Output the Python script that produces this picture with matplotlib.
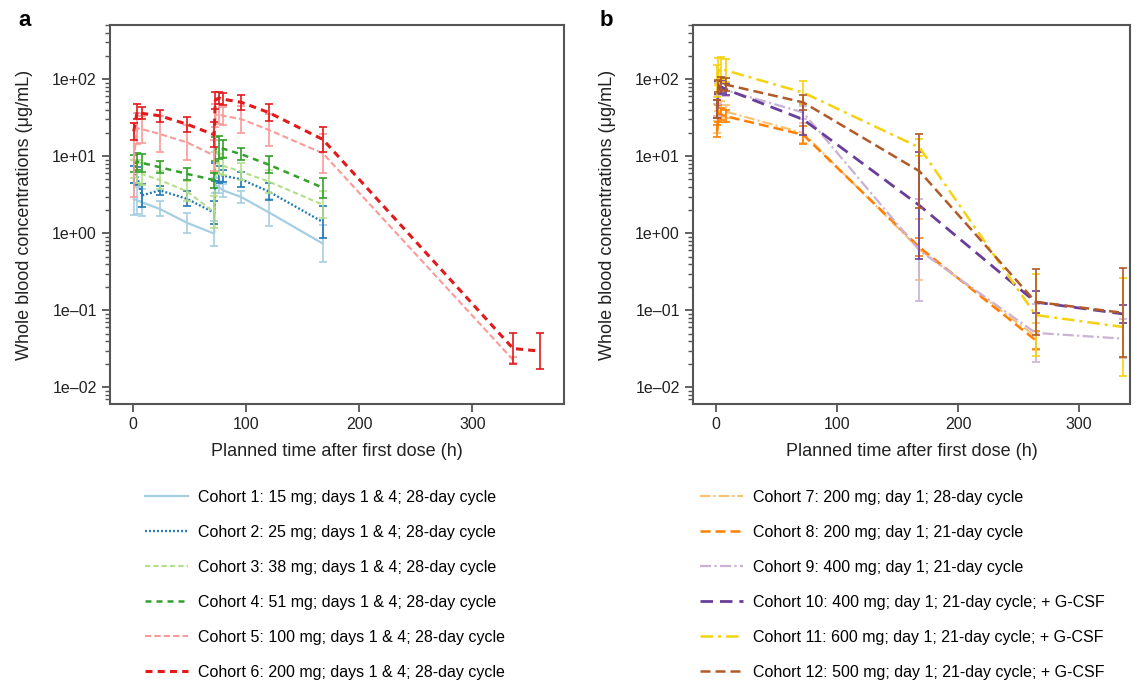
import matplotlib
matplotlib.use('Agg')
import matplotlib.pyplot as plt
from matplotlib.ticker import LogLocator, NullFormatter, FixedLocator
import numpy as np

plt.rcParams['font.family'] = ['Liberation Sans', 'DejaVu Sans']

# ---- data (panel a: days 1 & 4 schedule) ----
t_a = [1, 4, 8, 24, 48, 72, 73, 76, 80, 96, 120, 168]
t_a5 = t_a + [336]
t_a6 = t_a + [336, 360]

c1 = [2.8, 2.67, 2.53, 2.07, 1.37, 0.99, 4.2, 4.0, 3.6, 2.95, 1.88, 0.735]
c2 = [5.8, 5.5, 3.1, 3.6, 2.8, 1.85, 6.2, 5.8, 5.6, 5.0, 3.5, 1.40]
c3 = [6.8, 6.3, 5.9, 4.9, 3.5, 1.88, 8.3, 8.0, 7.5, 6.3, 4.7, 2.35]
c4 = [8.0, 8.5, 8.2, 7.2, 5.9, 4.9, 12.4, 13.0, 12.5, 10.6, 7.8, 3.9]
c5 = [9.0, 23, 22.5, 19.4, 15.1, 10.2, 34, 35, 33.5, 30.3, 22.0, 10.9, 0.0228]
c6 = [21, 38, 36, 33.5, 26, 19, 53, 57, 55, 50, 37, 16.5, 0.032, 0.0296]

# multiplicative spread of the error bars
e1 = [1.6, 1.5, 1.5, 1.25, 1.35, 1.45, 1.25, 1.2, 1.2, 1.2, 1.5, 1.75]
e2 = [1.3, 1.3, 1.4, 1.15, 1.25, 1.4, 1.3, 1.3, 1.2, 1.25, 1.3, 1.6]
e3 = [1.3, 1.4, 1.4, 1.3, 1.35, 1.6, 1.35, 1.35, 1.3, 1.3, 1.4, 1.5]
e4 = [1.3, 1.3, 1.3, 1.2, 1.2, 1.25, 1.45, 1.4, 1.3, 1.2, 1.3, 1.35]
e5 = [3.0, 1.6, 1.5, 1.7, 1.7, 1.6, 1.4, 1.35, 1.3, 1.5, 1.6, 1.8, 1.1]
e6 = [1.3, 1.25, 1.2, 1.2, 1.25, 1.45, 1.3, 1.2, 1.2, 1.25, 1.3, 1.45, 1.6, 1.7]

# ---- panel b: day 1 schedule ----
t_b = [1, 2, 4, 8, 72, 168, 264, 336]
t_b78 = t_b[:7]

c7 = [24, 50, 42, 38, 20, 0.62, 0.046]
c8 = [21, 36, 35, 33, 19, 0.66, 0.041]
c9 = [40, 75, 78, 72, 37, 0.6, 0.051, 0.043]
c10 = [41, 78, 80, 74, 30, 2.3, 0.128, 0.090]
c11 = [95, 125, 140, 130, 67, 13, 0.087, 0.061]
c12 = [41, 82, 88, 85, 50, 6.4, 0.129, 0.093]

e7 = [1.2, 1.3, 1.25, 1.2, 1.35, 2.5, 1.5]
e8 = [1.2, 1.3, 1.2, 1.2, 1.3, 1.3, 1.3]
e9 = [1.2, 1.2, 1.2, 1.2, 1.2, 4.6, 2.4, 1.8]
e10 = [1.3, 1.2, 1.2, 1.2, 1.6, 5.0, 1.4, 1.3]
e11 = [1.6, 1.5, 1.4, 1.4, 1.4, 1.3, 3.4, 4.3]
e12 = [1.3, 1.2, 1.2, 1.2, 1.25, 3.0, 2.7, 3.8]

labels_a = ['Cohort 1: 15 mg; days 1 & 4; 28-day cycle',
            'Cohort 2: 25 mg; days 1 & 4; 28-day cycle',
            'Cohort 3: 38 mg; days 1 & 4; 28-day cycle',
            'Cohort 4: 51 mg; days 1 & 4; 28-day cycle',
            'Cohort 5: 100 mg; days 1 & 4; 28-day cycle',
            'Cohort 6: 200 mg; days 1 & 4; 28-day cycle']
labels_b = ['Cohort 7: 200 mg; day 1; 28-day cycle',
            'Cohort 8: 200 mg; day 1; 21-day cycle',
            'Cohort 9: 400 mg; day 1; 21-day cycle',
            'Cohort 10: 400 mg; day 1; 21-day cycle; + G-CSF',
            'Cohort 11: 600 mg; day 1; 21-day cycle; + G-CSF',
            'Cohort 12: 500 mg; day 1; 21-day cycle; + G-CSF']

ytick_vals = [1e-2, 1e-1, 1e0, 1e1, 1e2]
ytick_labels = ['1e\u201302', '1e\u201301', '1e+00', '1e+01', '1e+02']
xtick_vals = [0, 100, 200, 300]

W, H = 1137, 680
fig = plt.figure(figsize=(W / 100, H / 100), dpi=100)


def px_axes(l, r, t, b):
    return fig.add_axes([l / W, 1 - b / H, (r - l) / W, (b - t) / H])


def draw(ax, t, v, s, color, ls, lw, label):
    v = np.array(v)
    s = np.array(s)
    ax.errorbar(t, v, yerr=[v - v / s, v * s - v], fmt='none', ecolor=color,
                elinewidth=1.2, capsize=3, capthick=1.2)
    line, = ax.plot(t, v, color=color, ls=ls, lw=lw, label=label)
    return line


def style(ax, xlim):
    ax.set_yscale('log')
    ax.set_ylim(0.0061, 504)
    ax.set_xlim(*xlim)
    ax.yaxis.set_major_locator(FixedLocator(ytick_vals))
    ax.set_yticklabels(ytick_labels)
    ax.yaxis.set_minor_locator(LogLocator(base=10, subs=np.arange(2, 10)))
    ax.yaxis.set_minor_formatter(NullFormatter())
    ax.set_xticks(xtick_vals)
    for sp in ax.spines.values():
        sp.set_color('#555555')
        sp.set_linewidth(1.5)
    ax.tick_params(axis='both', which='major', length=6, width=1.3,
                   color='#555555', labelsize=11.5, labelcolor='#222222')
    ax.tick_params(axis='y', which='minor', length=3.5, width=1.0, color='#555555')
    ax.set_xlabel('Planned time after first dose (h)', fontsize=13, color='#222222',
                  labelpad=8)
    ax.set_ylabel('Whole blood concentrations (\u03bcg/mL)', fontsize=13, color='#222222',
                  labelpad=14)


# ---------------- panel a ----------------
ax_a = px_axes(110, 564, 25, 404)
h_a = [
    draw(ax_a, t_a, c1, e1, '#a6cee3', '-', 1.6, labels_a[0]),
    draw(ax_a, t_a, c2, e2, '#1f78b4', (0, (0.8, 0.9)), 1.7, labels_a[1]),
    draw(ax_a, t_a, c3, e3, '#b2df8a', (0, (2.5, 1.5)), 1.5, labels_a[2]),
    draw(ax_a, t_a, c4, e4, '#33a02c', (0, (2.4, 2.0)), 1.8, labels_a[3]),
    draw(ax_a, t_a5, c5, e5, '#fb9a99', (0, (3.0, 1.5)), 1.5, labels_a[4]),
    draw(ax_a, t_a6, c6, e6, '#e31a1c', (0, (2.3, 1.7)), 2.2, labels_a[5]),
]
style(ax_a, (-20, 381))

# ---------------- panel b ----------------
ax_b = px_axes(693, 1130, 25, 404)
h_b = [
    draw(ax_b, t_b78, c7, e7, '#fdbf6f', (0, (5, 1.5, 1, 1.5)), 1.5, labels_b[0]),
    draw(ax_b, t_b78, c8, e8, '#ff7f00', (0, (4, 2)), 1.8, labels_b[1]),
    draw(ax_b, t_b, c9, e9, '#cab2d6', (0, (5, 1.5, 1, 1.5)), 1.6, labels_b[2]),
    draw(ax_b, t_b, c10, e10, '#6a3d9a', (0, (4.5, 2.5)), 2.0, labels_b[3]),
    draw(ax_b, t_b, c11, e11, '#f5d20f', (0, (5, 2, 1.2, 2)), 1.8, labels_b[4]),
    draw(ax_b, t_b, c12, e12, '#b15928', (0, (4, 2)), 1.8, labels_b[5]),
]
style(ax_b, (-19, 342))

fig.text(18 / W, 1 - 20 / H, 'a', fontsize=16, fontweight='bold', va='center', ha='left')
fig.text(600 / W, 1 - 20 / H, 'b', fontsize=16, fontweight='bold', va='center', ha='left')

leg_kw = dict(loc='upper left', frameon=False, fontsize=11.5, handlelength=2.7,
              handletextpad=0.6, labelspacing=1.25, borderaxespad=0, borderpad=0,
              bbox_transform=fig.transFigure)
fig.legend(handles=h_a, bbox_to_anchor=(145 / W, 1 - 490 / H), **leg_kw)
fig.legend(handles=h_b, bbox_to_anchor=(700 / W, 1 - 490 / H), **leg_kw)

fig.savefig('out.png', dpi=100)
